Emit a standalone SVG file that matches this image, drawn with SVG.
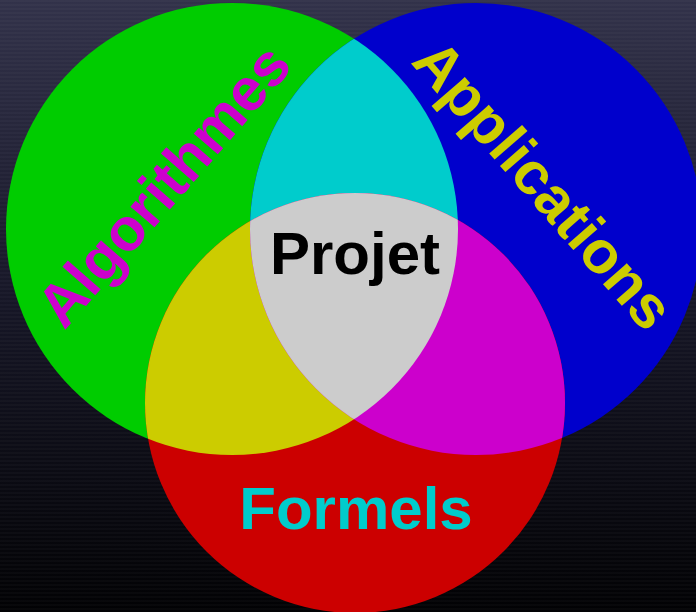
<svg xmlns="http://www.w3.org/2000/svg" width="696" height="612" viewBox="0 0 696 612">
<style>
.lbl{font-family:"Liberation Sans",Arial,sans-serif;font-weight:bold;font-size:60px;text-anchor:middle}
</style>
<defs>
<linearGradient id="bg" x1="0" y1="0" x2="0" y2="1">
<stop offset="0" stop-color="#32324a"/>
<stop offset="0.5" stop-color="#161626"/>
<stop offset="1" stop-color="#020204"/>
</linearGradient>
<pattern id="stripes" width="8" height="4" patternUnits="userSpaceOnUse">
<rect width="8" height="2" fill="#ffffff" fill-opacity="0.025"/>
</pattern>
<clipPath id="cG"><circle cx="232" cy="229" r="226"/></clipPath>
<clipPath id="cB"><circle cx="476" cy="229" r="226"/></clipPath>
</defs>
<rect width="696" height="612" fill="url(#bg)"/>
<rect width="696" height="612" fill="url(#stripes)"/>
<g id="circle-algorithmes"><circle cx="232" cy="229" r="226" fill="#00cc00"/></g>
<g id="circle-applications"><circle cx="476" cy="229" r="226" fill="#0000cc"/></g>
<g id="circle-formels"><circle cx="355" cy="403" r="210" fill="#cc0000"/></g>
<g id="overlap-cyan" clip-path="url(#cG)"><circle cx="476" cy="229" r="226" fill="#00cccc"/></g>
<g id="overlap-yellow" clip-path="url(#cG)"><circle cx="355" cy="403" r="210" fill="#cccc00"/></g>
<g id="overlap-magenta" clip-path="url(#cB)"><circle cx="355" cy="403" r="210" fill="#cc00cc"/></g>
<g id="node-projet">
<g clip-path="url(#cG)"><g clip-path="url(#cB)"><circle cx="355" cy="403" r="210" fill="#cccccc"/></g></g>
<text class="lbl" x="355" y="274" fill="#000000">Projet</text>
</g>
<g id="label-algorithmes"><text class="lbl" x="0" y="0" fill="#cc00cc" transform="translate(179,199) rotate(-49)">Algorithmes</text></g>
<g id="label-applications"><text class="lbl" x="0" y="0" fill="#cccc00" transform="translate(528,198) rotate(49)">Applications</text></g>
<g id="label-formels"><text class="lbl" x="356" y="529" fill="#00cccc">Formels</text></g>
<g id="connectors"></g>
</svg>
